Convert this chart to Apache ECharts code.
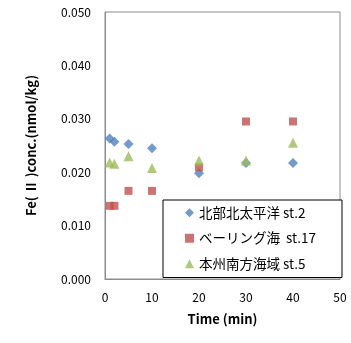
<!DOCTYPE html>
<html><head><meta charset="utf-8">
<script src="https://cdn.jsdelivr.net/npm/echarts@6/dist/echarts.min.js"></script>
<style>html,body{margin:0;padding:0;background:#fff}#c{width:351px;height:343px}</style>
</head><body><div id="c"></div>
<script>
var seriesNames = ['北部北太平洋 st.2', 'ベーリング海  st.17', '本州南方海域 st.5'];
var timesMin = [1, 2, 5, 10, 20, 30, 40];
var st2 = [0.0263, 0.0257, 0.0253, 0.0245, 0.0198, 0.0217, 0.0217];
var st17 = [0.0137, 0.0137, 0.0165, 0.0165, 0.0209, 0.0295, 0.0295];
var st5 = [0.0218, 0.0216, 0.0230, 0.0208, 0.0222, 0.0222, 0.0255];
var xTicks = [0, 10, 20, 30, 40, 50];
var yTicks = [0, 0.01, 0.02, 0.03, 0.04, 0.05];

function pts(v){ return timesMin.map(function(t,i){ return [t, v[i]]; }); }
var font = '"Noto Sans CJK JP", "Liberation Sans", sans-serif';
var chart = echarts.init(document.getElementById('c'));
chart.setOption({
  animation: false,
  textStyle: {fontFamily: font},
  grid: {left: 105, top: 12, right: 11, bottom: 64, show: true, borderColor: '#8c8c8c', borderWidth: 1, backgroundColor: '#fff'},
  xAxis: {
    type: 'value', min: xTicks[0], max: xTicks[xTicks.length-1], interval: 10,
    name: 'Time (min)', nameLocation: 'middle', nameGap: 34,
    nameTextStyle: {fontWeight: 'bold', fontSize: 13, color: '#000', fontFamily: font},
    axisLine: {show: true, lineStyle: {color: '#8c8c8c'}},
    axisTick: {show: false}, splitLine: {show: false},
    axisLabel: {color: '#000', fontSize: 12, margin: 12, fontFamily: font}
  },
  yAxis: {
    type: 'value', min: yTicks[0], max: yTicks[yTicks.length-1], interval: 0.01,
    name: 'Fe( Ⅱ )conc.(nmol/kg)', nameLocation: 'middle', nameGap: 67, nameRotate: 90,
    nameTextStyle: {fontWeight: 'bold', fontSize: 13, color: '#000', fontFamily: font},
    axisLine: {show: true, lineStyle: {color: '#8c8c8c'}},
    axisTick: {show: false}, splitLine: {show: false},
    axisLabel: {color: '#000', fontSize: 12, margin: 14, fontFamily: font,
      formatter: function(v){ return v.toFixed(3); }}
  },
  legend: {
    orient: 'vertical', left: 163, top: 200, width: 175,
    padding: [6, 26, 7, 22], itemGap: 12, itemWidth: 9, itemHeight: 9,
    borderColor: '#000', borderWidth: 1, backgroundColor: '#fff',
    textStyle: {fontSize: 13.5, color: '#000', fontFamily: font},
    data: [
      {name: seriesNames[0], icon: 'diamond'},
      {name: seriesNames[1], icon: 'rect'},
      {name: seriesNames[2], icon: 'triangle'}
    ]
  },
  series: [
    {name: seriesNames[0], type: 'scatter', symbol: 'diamond', symbolSize: 10, itemStyle: {color: '#4F81BD'}, data: pts(st2)},
    {name: seriesNames[1], type: 'scatter', symbol: 'rect', symbolSize: 8, itemStyle: {color: '#C0504D'}, data: pts(st17)},
    {name: seriesNames[2], type: 'scatter', symbol: 'triangle', symbolSize: 10, itemStyle: {color: '#9BBB59'}, data: pts(st5)}
  ]
});
</script></body></html>
